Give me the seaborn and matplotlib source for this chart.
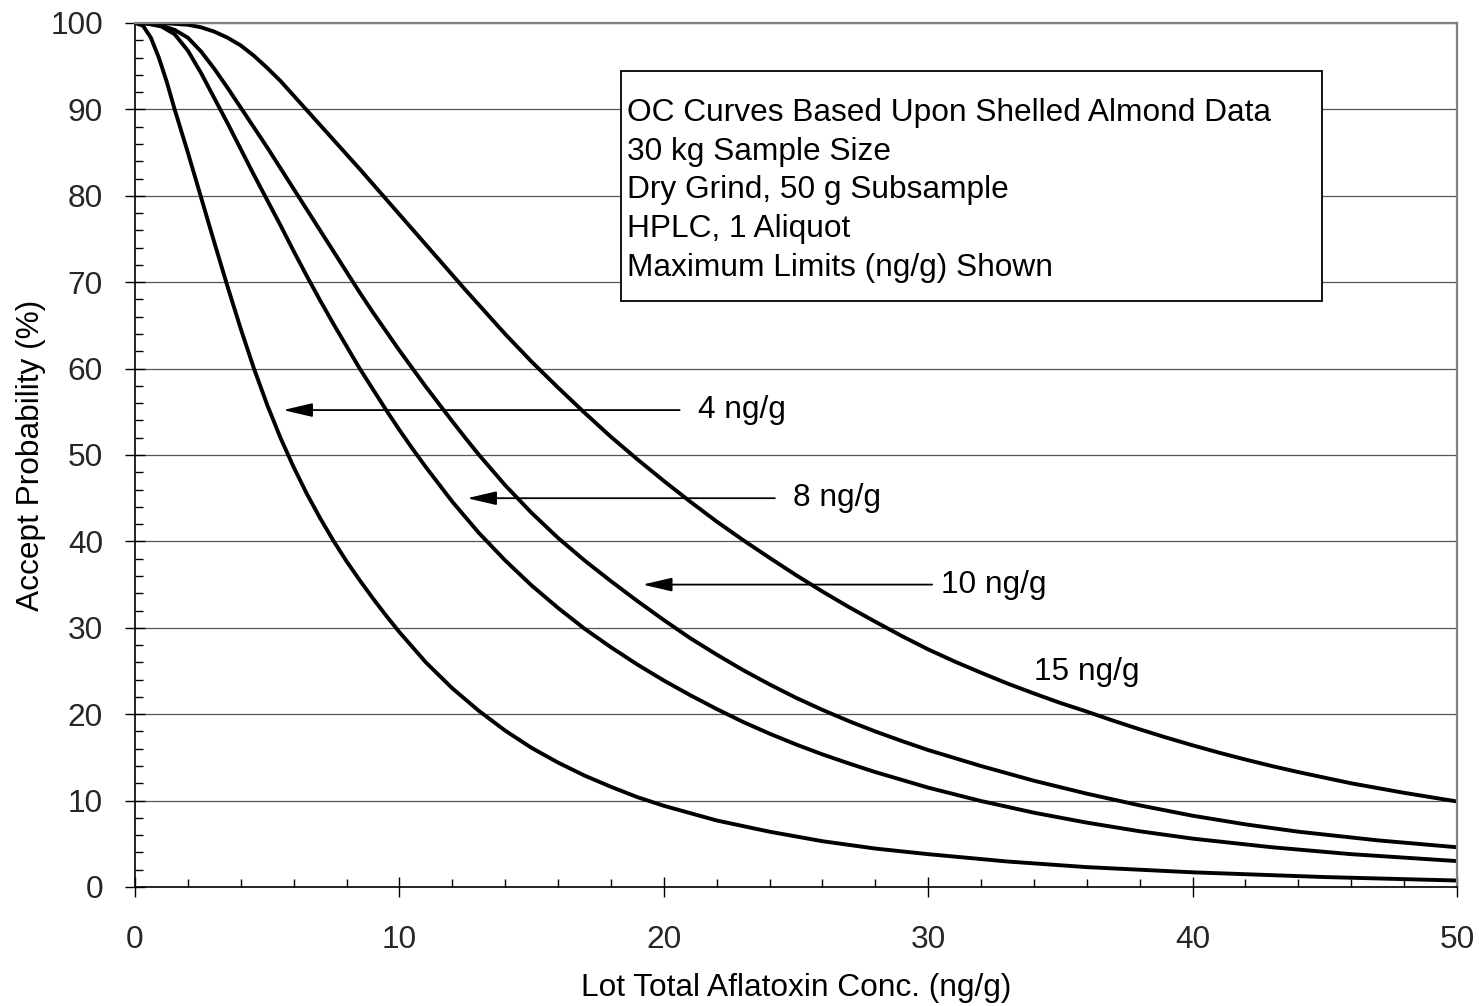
import numpy as np
import pandas as pd
import matplotlib
matplotlib.use("Agg")
import matplotlib.pyplot as plt
import seaborn as sns
from matplotlib.patches import Rectangle
from matplotlib.ticker import MultipleLocator

# ---- data ----
x_4 = [0, 0.3, 0.6, 0.9, 1.2, 1.5, 2.0, 2.5, 3.0, 3.5, 4.0, 4.5, 5.0, 5.5, 6.0, 6.5, 7.0, 7.5, 8.0, 8.5,
       9.0, 9.5, 10, 11, 12, 13, 14, 15, 16, 17, 18, 19, 20, 22, 24, 26, 28, 30, 33, 36, 40, 45, 50]
y_4 = [100, 99.7, 98.3, 96.0, 93.2, 90.0, 85.0, 79.8, 74.6, 69.5, 64.6, 60.0, 55.8, 52.0, 48.6, 45.5,
       42.7, 40.1, 37.7, 35.5, 33.4, 31.4, 29.5, 26.0, 23.0, 20.4, 18.1, 16.1, 14.4, 12.9, 11.6, 10.4,
       9.4, 7.7, 6.4, 5.3, 4.45, 3.8, 2.95, 2.3, 1.7, 1.15, 0.75]

x_8 = [0, 0.5, 1.0, 1.5, 2.0, 2.5, 3.0, 3.5, 4.0, 4.5, 5.0, 5.5, 6.0, 6.5, 7.0, 7.5, 8.0, 8.5, 9.0,
       9.5, 10, 10.5, 11, 12, 13, 14, 15, 16, 17, 18, 19, 20, 21, 22, 23, 24, 25, 26, 27, 28, 30, 32,
       34, 36, 38, 40, 43, 46, 50]
y_8 = [100, 99.9, 99.6, 98.7, 96.8, 94.2, 91.3, 88.4, 85.4, 82.4, 79.5, 76.6, 73.6, 70.7, 67.9, 65.2,
       62.6, 60.0, 57.6, 55.2, 52.9, 50.7, 48.6, 44.6, 41.0, 37.8, 34.9, 32.3, 29.9, 27.75, 25.75, 23.9,
       22.2, 20.6, 19.1, 17.75, 16.5, 15.35, 14.3, 13.3, 11.5, 9.95, 8.6, 7.45, 6.45, 5.6, 4.6, 3.8, 3.0]

x_10 = [0, 0.5, 1.0, 1.5, 2.0, 2.5, 3.0, 3.5, 4.0, 4.5, 5.0, 5.5, 6.0, 6.5, 7.0, 7.5, 8.0, 8.5, 9.0,
        9.5, 10, 10.5, 11, 11.5, 12, 12.5, 13, 14, 15, 16, 17, 18, 19, 20, 21, 22, 23, 24, 25, 26, 27,
        28, 29, 30, 32, 34, 36, 38, 40, 42, 44, 47, 50]
y_10 = [100, 99.95, 99.7, 99.2, 98.3, 96.7, 94.7, 92.5, 90.2, 87.9, 85.6, 83.2, 80.8, 78.4, 76.0, 73.6,
        71.2, 68.8, 66.5, 64.3, 62.1, 60.0, 57.9, 55.9, 53.9, 51.95, 50.05, 46.5, 43.3, 40.4, 37.8, 35.4,
        33.1, 30.9, 28.8, 26.9, 25.1, 23.45, 21.9, 20.5, 19.2, 18.0, 16.9, 15.85, 14.0, 12.3, 10.8, 9.45,
        8.25, 7.25, 6.4, 5.4, 4.6]

x_15 = [0, 1, 2, 2.5, 3, 3.5, 4, 4.5, 5, 5.5, 6, 6.5, 7, 7.5, 8, 8.5, 9, 9.5, 10, 10.5, 11, 11.5, 12,
        12.5, 13, 14, 14.5, 15, 15.5, 16, 17, 18, 19, 20, 21, 22, 23, 24, 25, 26, 27, 28, 29, 30, 31,
        32, 33, 34, 35, 36, 37, 38, 39, 40, 41, 42, 43, 44, 46, 48, 50]
y_15 = [100, 100, 99.8, 99.5, 99.0, 98.3, 97.4, 96.2, 94.8, 93.3, 91.6, 89.9, 88.2, 86.5, 84.8, 83.1,
        81.35, 79.6, 77.85, 76.1, 74.35, 72.6, 70.85, 69.1, 67.4, 64.0, 62.4, 60.8, 59.3, 57.8, 54.9, 52.1,
        49.5, 47.0, 44.6, 42.3, 40.15, 38.1, 36.1, 34.2, 32.4, 30.7, 29.05, 27.5, 26.1, 24.8, 23.55, 22.4,
        21.3, 20.3, 19.25, 18.25, 17.3, 16.4, 15.55, 14.75, 14.0, 13.3, 12.0, 10.9, 9.9]

limits = ["4 ng/g", "8 ng/g", "10 ng/g", "15 ng/g"]
box_lines = ["OC Curves Based Upon Shelled Almond Data",
             "30 kg Sample Size",
             "Dry Grind, 50 g Subsample",
             "HPLC, 1 Aliquot",
             "Maximum Limits (ng/g) Shown"]
x_ticks = [0, 10, 20, 30, 40, 50]
y_ticks = [0, 10, 20, 30, 40, 50, 60, 70, 80, 90, 100]

frames = []
for lab, xs, ys in zip(limits, [x_4, x_8, x_10, x_15], [y_4, y_8, y_10, y_15]):
    frames.append(pd.DataFrame({"conc": xs, "prob": ys, "limit": lab}))
df = pd.concat(frames, ignore_index=True)

# ---- styling ----
sns.set_theme(style="white")
plt.rcParams["font.family"] = ["Liberation Sans", "DejaVu Sans"]
FS = 22.8

fig = plt.figure(figsize=(14.79, 10.06), dpi=100)
ax = fig.add_axes([135 / 1479, 1 - 887 / 1006, (1457 - 135) / 1479, (887 - 23) / 1006])

sns.lineplot(data=df, x="conc", y="prob", hue="limit", palette=["black"] * 4,
             linewidth=2.8, legend=False, ax=ax, estimator=None, sort=True)
for ln in ax.get_lines():
    ln.set_solid_joinstyle("round")
    ln.set_solid_capstyle("butt")

ax.set_xlim(0, 50)
ax.set_ylim(0, 100)
ax.set_xticks(x_ticks)
ax.set_yticks(y_ticks)
ax.xaxis.set_minor_locator(MultipleLocator(2))
ax.yaxis.set_minor_locator(MultipleLocator(2))
ax.yaxis.grid(True, which="major", color="#555555", linewidth=0.9)
ax.xaxis.grid(False)
ax.set_axisbelow(True)

ax.tick_params(axis="x", which="major", direction="inout", length=14, width=1.0,
               color="black", labelsize=FS, pad=20, bottom=True)
ax.tick_params(axis="x", which="minor", direction="in", length=6, width=1.0,
               color="black", bottom=True)
ax.tick_params(axis="y", which="major", direction="inout", length=14, width=1.0,
               color="black", labelsize=FS, pad=16, left=True)
ax.tick_params(axis="y", which="minor", direction="in", length=6, width=1.0,
               color="black", left=True)

for s in ["left", "bottom"]:
    ax.spines[s].set_color("black")
    ax.spines[s].set_linewidth(1.2)
for s in ["top", "right"]:
    ax.spines[s].set_color("#808080")
    ax.spines[s].set_linewidth(1.6)

ax.set_xlabel("Lot Total Aflatoxin Conc. (ng/g)", fontsize=FS, labelpad=13, color="black")
ax.set_ylabel("Accept Probability (%)", fontsize=FS, labelpad=3, color="black")

# ---- text box ----
ax.add_patch(Rectangle((18.38, 67.8), 44.9 - 18.38, 94.5 - 67.8, facecolor="white",
                       edgecolor="black", linewidth=1.3, zorder=5))
for i, line in enumerate(box_lines):
    ax.text(18.6, 89.6 - i * 4.48, line, fontsize=FS, va="center", ha="left",
            color="black", zorder=6)

# ---- arrows & labels ----
arrow_specs = [  # (label, text_x, text_y, tail_x, tip_x)
    (limits[0], 21.3, 55.2, 20.6, 5.6),
    (limits[1], 24.9, 45.0, 24.2, 12.56),
    (limits[2], 30.5, 35.0, 30.15, 19.2),
]
for lab, tx, ty, tail, tip in arrow_specs:
    ax.annotate("", xy=(tip, ty), xytext=(tail, ty),
                arrowprops=dict(arrowstyle="-|>,head_length=1.8,head_width=0.42",
                                mutation_scale=10, color="black", lw=1.3,
                                shrinkA=0, shrinkB=0), zorder=4)
    ax.text(tx, ty, lab, fontsize=FS, va="center", ha="left", color="black")
ax.text(34.0, 24.9, limits[3], fontsize=FS, va="center", ha="left", color="black")

fig.savefig("out.png", dpi=100, facecolor="white")
